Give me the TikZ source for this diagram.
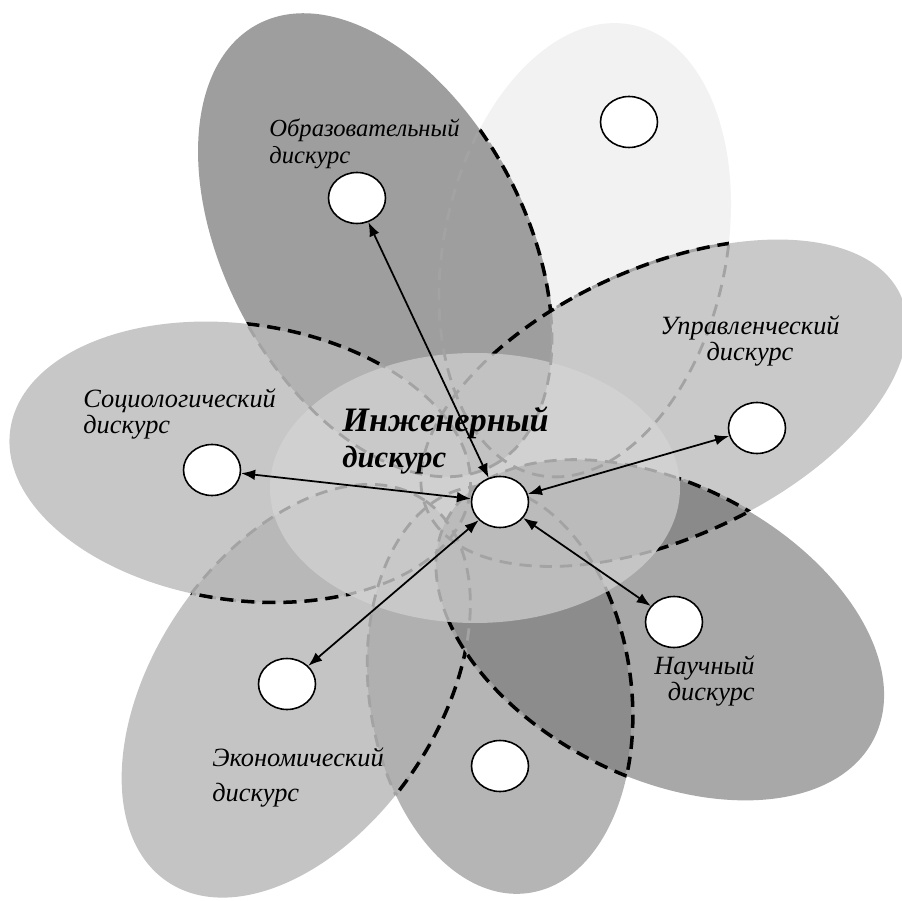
\documentclass[tikz,border=0pt]{standalone}
\usepackage{fontspec}
\setmainfont{Liberation Serif}
\usetikzlibrary{shapes.geometric,arrows.meta}

% лепестки (центр, полуоси, поворот)
\newcommand{\petalA}{(375,655) ellipse [x radius=250, y radius=150, rotate=-62]} % образовательный
\newcommand{\petalB}{(585,650) ellipse [x radius=230, y radius=141, rotate=78]}  % верхний правый
\newcommand{\petalC}{(664,497) ellipse [x radius=260, y radius=135, rotate=24.5]} % управленческий
\newcommand{\petalD}{(660,270) ellipse [x radius=240, y radius=147, rotate=-27]} % научный
\newcommand{\petalE}{(500,210) ellipse [x radius=205, y radius=131, rotate=-82]} % нижний
\newcommand{\petalF}{(296,209) ellipse [x radius=230, y radius=142, rotate=56]}  % экономический
\newcommand{\petalG}{(240,438) ellipse [x radius=232, y radius=138, rotate=-8]}  % социологический
\newcommand{\core}{(475,412) ellipse [x radius=205, y radius=135]}
\newcommand{\outside}{(0,0) -- (0,900) -- (902,900) -- (902,0) -- cycle}

\begin{document}
\begin{tikzpicture}[x=0.02cm, y=0.02cm]

% Стили
\tikzstyle{kruzhok} = [ellipse, draw, line width=0.9pt, fill=white, minimum width=1.14cm, minimum height=1.02cm, inner sep=0pt]
\tikzstyle{strelka} = [{Latex[length=8pt,width=6pt]}-{Latex[length=8pt,width=6pt]}, line width=1pt]
\tikzstyle{shtrih} = [draw=black!36, line width=1.6pt, dash pattern=on 7pt off 4.5pt]
\tikzstyle{shtrihB} = [draw=black, line width=2pt, dash pattern=on 7.5pt off 4.5pt]
\tikzstyle{podpis} = [font=\itshape\fontsize{15}{15}\selectfont, inner sep=0pt]

\useasboundingbox (0,0) rectangle (902,900);

% Заливка лепестков
\fill[black!5] \petalB;
\fill[black!21] \petalC;
\fill[black!38] \petalA;
\fill[black!34] \petalD;
\fill[black!29] \petalE;
\fill[black!23] \petalF;
\fill[black!22] \petalG;

% Пересечения
\begin{scope} \clip \petalA; \fill[black!30] \petalG; \end{scope}
\begin{scope} \clip \petalF; \fill[black!28] \petalG; \end{scope}
\begin{scope} \clip \petalE; \fill[black!31] \petalF; \end{scope}
\begin{scope} \clip \petalD; \fill[black!45] \petalE; \end{scope}
\begin{scope} \clip \petalC; \fill[black!46] \petalD; \end{scope}

% Центр
\fill[black!16, fill opacity=0.65] \core;

% Серые контуры
\begin{scope} \clip \petalB \petalC \petalD \petalE \petalF \petalG; \draw[shtrih] \petalA; \end{scope}
\begin{scope} \clip \petalA \petalC \petalD \petalE \petalF \petalG; \draw[shtrih] \petalB; \end{scope}
\begin{scope} \clip \petalA \petalB \petalD \petalE \petalF \petalG; \draw[shtrih] \petalC; \end{scope}
\begin{scope} \clip \petalA \petalB \petalC \petalE \petalF \petalG; \draw[shtrih] \petalD; \end{scope}
\begin{scope} \clip \petalA \petalB \petalC \petalD \petalF \petalG; \draw[shtrih] \petalE; \end{scope}
\begin{scope} \clip \petalA \petalB \petalC \petalD \petalE \petalG; \draw[shtrih] \petalF; \end{scope}
\begin{scope} \clip \petalA \petalB \petalC \petalD \petalE \petalF; \draw[shtrih] \petalG; \end{scope}

% Черные контуры
\begin{scope}
  \clip \outside \core;
  \begin{scope} \clip \petalB; \clip \outside \petalC; \draw[shtrihB] \petalA; \end{scope}
  \begin{scope} \clip \petalA \petalB; \draw[shtrihB] \petalC; \end{scope}
  \begin{scope} \clip \petalA \petalF; \draw[shtrihB] \petalG; \end{scope}
  \begin{scope} \clip \petalE; \clip \outside \petalD; \draw[shtrihB] \petalF; \end{scope}
  \begin{scope} \clip \petalE \petalC; \draw[shtrihB] \petalD; \end{scope}
  \begin{scope} \clip \petalD; \draw[shtrihB] \petalE; \end{scope}
  \begin{scope} \clip \petalD; \draw[shtrihB] \petalC; \end{scope}
\end{scope}

% Кружки
\node[kruzhok] (cEng) at (500,398) {};
\node[kruzhok] (cObr) at (357,702) {};
\node[kruzhok] (cTop) at (629,778) {};
\node[kruzhok] (cUpr) at (757,472) {};
\node[kruzhok] (cNau) at (674,278) {};
\node[kruzhok] (cBot) at (500,134) {};
\node[kruzhok] (cEko) at (287,216) {};
\node[kruzhok] (cSoc) at (212,430) {};

% Стрелки
\draw[strelka] (cEng) -- (cObr);
\draw[strelka] (cEng) -- (cSoc);
\draw[strelka] (cEng) -- (cUpr);
\draw[strelka] (cEng) -- (cEko);
\draw[strelka] (cEng) -- (cNau);

% Подписи
\node[podpis, anchor=north west, align=left, font=\itshape\fontsize{14}{15}\selectfont] (lObr) at (269,781) {Образовательный\\дискурс};
\node[podpis, anchor=north west, align=left] (lSoc) at (83,512) {Социологический\\дискурс};
\node[podpis, anchor=north, align=center] (lUpr) at (750,585) {Управленческий\\дискурс};
\node[podpis, anchor=north east, align=right] (lNau) at (755,245) {Научный\\дискурс};
\node[podpis, anchor=north west, align=left, font=\itshape\fontsize{15}{20}\selectfont] (lEko) at (212,153) {Экономический\\дискурс};
\node[anchor=north west, align=left, inner sep=0pt, font=\bfseries\itshape\fontsize{19.5}{21}\selectfont] (lEng) at (342,494) {Инженерный\\{\fontsize{17.5}{21}\selectfont дискурс}};

\end{tikzpicture}
\end{document}
